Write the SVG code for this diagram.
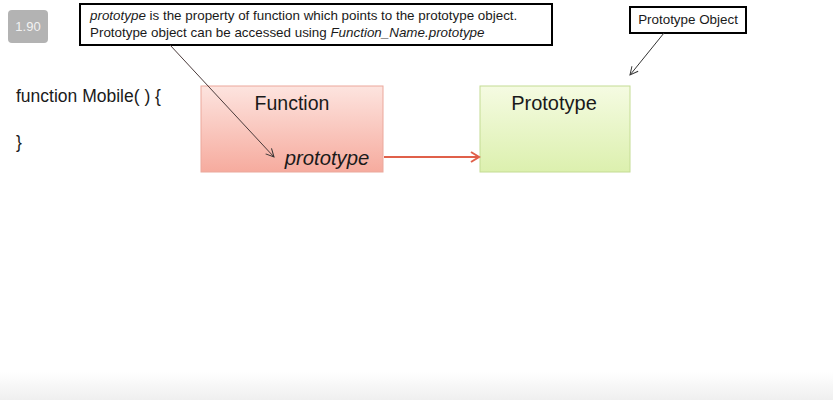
<svg xmlns="http://www.w3.org/2000/svg" width="833" height="400" viewBox="0 0 833 400">
<defs>
<linearGradient id="gPink" x1="0" y1="0" x2="0" y2="1"><stop offset="0" stop-color="#fde4df"/><stop offset="1" stop-color="#f6ab9e"/></linearGradient>
<linearGradient id="gGreen" x1="0" y1="0" x2="0" y2="1"><stop offset="0" stop-color="#f5fbe2"/><stop offset="1" stop-color="#dcf0ae"/></linearGradient>
<linearGradient id="gBottom" x1="0" y1="0" x2="0" y2="1"><stop offset="0" stop-color="#ffffff"/><stop offset="1" stop-color="#efefef"/></linearGradient>
<marker id="open" markerWidth="10" markerHeight="10" refX="9" refY="5" orient="auto" markerUnits="userSpaceOnUse"><path d="M1,1 L9,5 L1,9" fill="none" stroke="#333" stroke-width="1"/></marker>
<marker id="red" markerWidth="12" markerHeight="12" refX="10" refY="6" orient="auto" markerUnits="userSpaceOnUse"><path d="M2,1 L10,6 L2,11" fill="none" stroke="#e0604a" stroke-width="2"/></marker>
</defs>
<style>
text{font-family:"Liberation Sans","DejaVu Sans",sans-serif;fill:#1a1a1a}
.call{fill:#fff;stroke:#000;stroke-width:2}
.small{font-size:13.4px}
</style>
<rect width="833" height="400" fill="#fff"/>
<rect x="0" y="372" width="833" height="28" fill="url(#gBottom)"/>
<g id="badge"><rect x="8" y="10" width="40" height="33" rx="4" fill="#b3b3b3"/><text x="28" y="31" text-anchor="middle" style="font-size:13px;fill:#f2f2f2">1.90</text></g>
<g id="code"><text x="16" y="102" style="font-size:17.5px">function Mobile( ) {</text><text x="16" y="148" style="font-size:17.5px">}</text></g>
<g id="function"><rect x="201" y="86" width="182" height="86" fill="url(#gPink)" stroke="#eba89c" stroke-width="1"/><text x="292" y="110" text-anchor="middle" style="font-size:19.5px">Function</text><text x="327" y="165" text-anchor="middle" style="font-size:20.3px" font-style="italic">prototype</text></g>
<g id="prototype"><rect x="480" y="86" width="150" height="86" fill="url(#gGreen)" stroke="#c4dc94" stroke-width="1"/><text x="554" y="110" text-anchor="middle" style="font-size:20px">Prototype</text></g>
<g id="note"><rect class="call" x="80" y="4" width="472" height="41"/><text x="90" y="20" class="small"><tspan font-style="italic">prototype</tspan> is the property of function which points to the prototype object.</text><text x="90" y="37" class="small">Prototype object can be accessed using <tspan font-style="italic">Function_Name.prototype</tspan></text></g>
<g id="protoLabel"><rect class="call" x="630" y="7" width="116" height="26"/><text x="688" y="24" text-anchor="middle" class="small">Prototype Object</text></g>
<g id="connectors">
<line x1="384" y1="157" x2="479" y2="157" stroke="#e0604a" stroke-width="2" marker-end="url(#red)"/>
<line x1="170" y1="45" x2="274" y2="157" stroke="#4a3a3a" stroke-width="1" marker-end="url(#open)"/>
<line x1="664" y1="33" x2="630" y2="75" stroke="#333" stroke-width="1" marker-end="url(#open)"/>
</g>
</svg>
